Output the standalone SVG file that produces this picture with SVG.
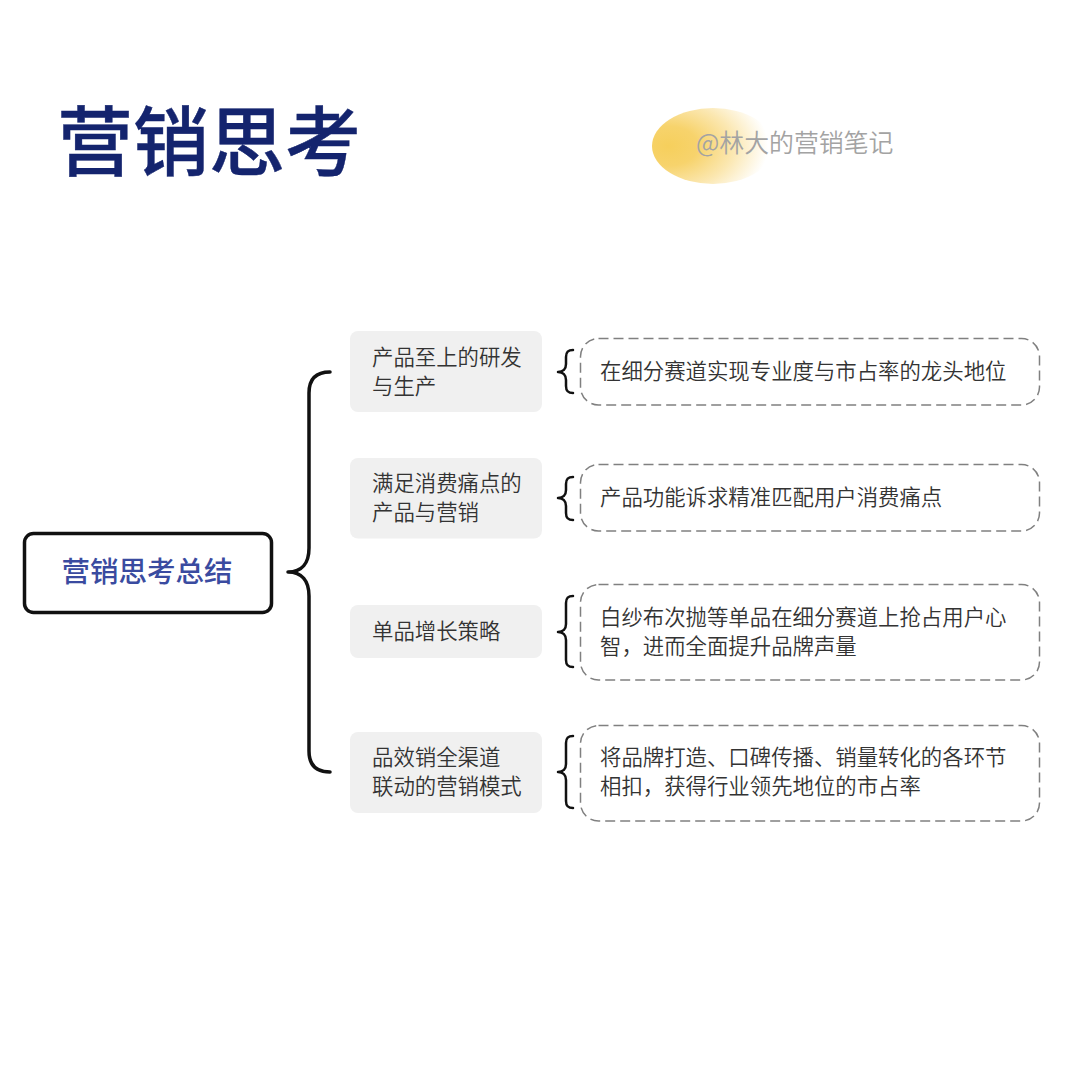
<svg xmlns="http://www.w3.org/2000/svg" width="1080" height="1080" viewBox="0 0 1080 1080">
<style>
text{font-family:"Noto Sans CJK SC","Noto Sans",sans-serif}
.t{font-size:21.4px;fill:#333;font-weight:350}
.l{fill:#f0f0f0}
.d{fill:#fff;stroke:#808080;stroke-width:1.5;stroke-dasharray:10 5}
.b{fill:none;stroke:#111;stroke-linecap:round;stroke-linejoin:round}
</style>
<defs>
<radialGradient id="g" gradientUnits="userSpaceOnUse" cx="0" cy="0" r="1" gradientTransform="translate(668 146) scale(100 66)">
<stop offset="0" stop-color="#f6cf5c"/>
<stop offset="0.3" stop-color="#f7d36c"/>
<stop offset="0.65" stop-color="#fbe7b0"/>
<stop offset="1" stop-color="#ffffff"/>
</radialGradient>
</defs>
<rect width="1080" height="1080" fill="#fff"/>
<g id="title"><text x="57" y="170" font-size="76" font-weight="500" fill="#14246e" stroke="#14246e" stroke-width="0.4">营销思考</text></g>
<g id="watermark">
<ellipse cx="713" cy="146" rx="61" ry="38" fill="url(#g)"/>
<text x="696" y="152" font-size="24.9" font-weight="350" fill="#a3a3a3">@林大的营销笔记</text>
</g>
<g id="connectors">
<path class="b" stroke-width="3.5" d="M330 372C316 372 309 379 309 393V548C309 563 302 572 288 572C302 572 309 581 309 596V751C309 765 316 772 330 772"/>
<path class="b" stroke-width="2.5" d="M573 350C568 350 566 352 566 357V364C566 369 563 372 558 372C563 372 566 375 566 380V386C566 391 568 393 573 393"/>
<path class="b" stroke-width="2.5" d="M573 477C568 477 566 479 566 484V490C566 495 563 498 558 498C563 498 566 501 566 506V513C566 518 568 520 573 520"/>
<path class="b" stroke-width="2.5" d="M573 596C568 596 566 598 566 603V624C566 629 563 632 558 632C563 632 566 635 566 640V660C566 665 568 667 573 667"/>
<path class="b" stroke-width="2.5" d="M573 736C568 736 566 738 566 743V764C566 769 563 772 558 772C563 772 566 775 566 780V801C566 806 568 808 573 808"/>
</g>
<g id="root">
<rect x="24.5" y="533.5" width="247" height="79" rx="9" fill="#fff" stroke="#111" stroke-width="3.5"/>
<text x="147" y="582" font-size="28.5" font-weight="500" fill="#3a4ba0" text-anchor="middle">营销思考总结</text>
</g>
<g id="node1">
<rect class="l" x="350" y="331" width="192" height="81" rx="8"/>
<text class="t" x="372" y="365">产品至上的研发</text>
<text class="t" x="372" y="394">与生产</text>
</g>
<g id="node2">
<rect class="l" x="350" y="458" width="192" height="80.5" rx="8"/>
<text class="t" x="372" y="491">满足消费痛点的</text>
<text class="t" x="372" y="520">产品与营销</text>
</g>
<g id="node3">
<rect class="l" x="350" y="605" width="192" height="53" rx="8"/>
<text class="t" x="372" y="639">单品增长策略</text>
</g>
<g id="node4">
<rect class="l" x="350" y="732" width="192" height="81" rx="8"/>
<text class="t" x="372" y="765">品效销全渠道</text>
<text class="t" x="372" y="794">联动的营销模式</text>
</g>
<g id="detail1">
<rect class="d" x="580.5" y="338.5" width="459" height="66.5" rx="18"/>
<text class="t" x="600" y="379">在细分赛道实现专业度与市占率的龙头地位</text>
</g>
<g id="detail2">
<rect class="d" x="580.5" y="464.5" width="459" height="66.5" rx="18"/>
<text class="t" x="600" y="505">产品功能诉求精准匹配用户消费痛点</text>
</g>
<g id="detail3">
<rect class="d" x="580.5" y="584.5" width="459" height="95.5" rx="18"/>
<text class="t" x="600" y="625">白纱布次抛等单品在细分赛道上抢占用户心</text>
<text class="t" x="600" y="654">智，进而全面提升品牌声量</text>
</g>
<g id="detail4">
<rect class="d" x="580.5" y="725.5" width="459" height="95.5" rx="18"/>
<text class="t" x="600" y="765">将品牌打造、口碑传播、销量转化的各环节</text>
<text class="t" x="600" y="794">相扣，获得行业领先地位的市占率</text>
</g>
</svg>
